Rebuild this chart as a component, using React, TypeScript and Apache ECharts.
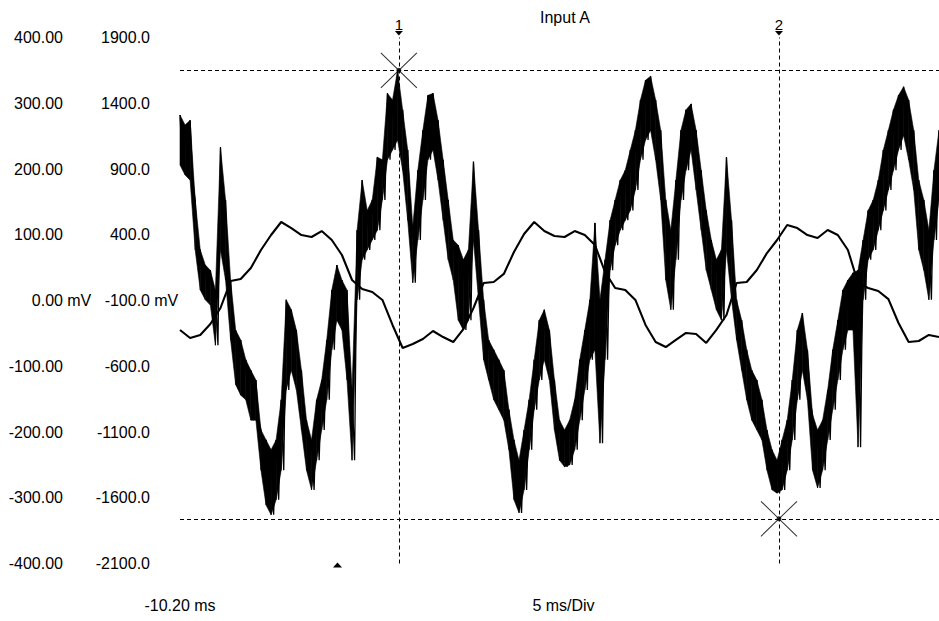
import React, { useEffect, useRef } from "react";
import * as echarts from "echarts";

// Time base (ms) of the capture window
const T_START = -10.2;
const T_END = 49.8;
const A_STEP = 0.4; // ms between envelope columns of channel A
const B_STEP = 0.8; // ms between samples of channel B

// Tick labels of the two scales (mV)
const chanATicks = [-400, -300, -200, -100, 0, 100, 200, 300, 400];
const chanBTicks = [-2100, -1600, -1100, -600, -100, 400, 900, 1400, 1900];
const timeLabels = [T_START];

// Channel A (Input A): upper and lower envelope of each column, mV
const chanAHigh = [
  282, 267, 274, 153, 77, 54, 46, 16, 233, 153,
  31, -45, -60, -90, -106, -121, -197, -212, -227, -212,
  -151, 1, -14, -45, -106, -182, -212, -151, -121, -60,
  16, 54, 31, 16, -136, 107, 183, 137, 153, 218,
  214, 315, 305, 350, 290, 229, 112, 198, 259, 312,
  315, 274, 214, 153, 92, 84, 62, 77, 211, 107,
  1, -60, -75, -90, -106, -166, -212, -243, -197, -151,
  -90, -30, -14, -45, -121, -182, -197, -182, -151, -90,
  -45, 1, 118, 1, 62, 122, 153, 183, 198, 229,
  259, 305, 335, 341, 305, 259, 153, 107, 183, 259,
  290, 299, 259, 198, 137, 92, 62, 77, 218, 122,
  1, -30, -75, -106, -121, -151, -197, -227, -243, -212,
  -182, -121, -45, -19, -75, -173, -197, -182, -136, -75,
  -30, 16, 31, 42, 46, 92, 137, 153, 183, 229,
  259, 290, 312, 325, 305, 259, 183, 153, 107, 198,
  259,
];
const chanALow = [
  206, 191, 183, 77, 16, 1, -7, -68, 77, 31,
  -60, -128, -144, -151, -182, -182, -258, -311, -326, -303,
  -258, -136, -106, -136, -197, -258, -288, -243, -197, -151,
  -75, -30, -45, -121, -243, 1, 62, 77, 92, 107,
  153, 214, 229, 244, 198, 122, 27, 92, 153, 214,
  229, 183, 122, 62, 31, -30, -45, -30, 92, 1,
  -90, -121, -151, -166, -182, -227, -303, -323, -288, -227,
  -166, -121, -90, -121, -197, -243, -253, -250, -227, -182,
  -136, -90, -75, -217, -90, 46, 84, 107, 122, 137,
  168, 214, 244, 259, 214, 153, 31, -14, 62, 153,
  198, 229, 168, 107, 46, 16, -14, -30, 77, 1,
  -60, -106, -151, -182, -197, -212, -258, -288, -293, -288,
  -258, -212, -151, -106, -151, -258, -285, -258, -212, -166,
  -121, -75, -45, -45, -223, 1, 62, 77, 107, 137,
  168, 198, 229, 251, 214, 168, 77, 46, 1, 92,
  153,
];

// Channel B, mV
const chanB = [
  -324, -385, -362, -279, -157, 48, 63, 147, 284, 398,
  497, 451, 398, 383, 428, 360, 246, 56, -13, -35,
  -96, -286, -461, -431, -393, -332, -378, -416, -317, -157,
  33, 41, 102, 269, 406, 497, 428, 391, 383, 428,
  398, 322, 117, -5, -20, -96, -286, -416, -454, -400,
  -347, -355, -423, -324, -210, 33, 41, 132, 261, 360,
  474, 451, 398, 375, 436, 398, 284, 33, -5, -28,
  -89, -271, -416, -408, -362, -378,
];

// Measurement cursors on channel A
const cursors = [
  { id: "1", t: 7.1, v: 350 },
  { id: "2", t: 37.15, v: -332 },
];
const triggerTime = 2.25;

const FONT = "'Liberation Sans', Arial, sans-serif";
const INK = "#000";

const xMarker = "path://M0 0L36 35M36 0L0 35";

function App() {
  const ref = useRef<HTMLDivElement>(null);

  useEffect(() => {
    if (!ref.current) return;
    const chart = echarts.init(ref.current, null, { renderer: "svg" });

    // zig-zag between the envelope edges of each column
    const aData: number[][] = [];
    chanAHigh.forEach((hi, i) => {
      const t = T_START + i * A_STEP;
      aData.push([t, hi]);
      aData.push([t + A_STEP / 2, chanALow[i]]);
    });
    // one row per column: time, lower edge, upper edge
    const aColumns = chanAHigh.map((hi, i) => [T_START + i * A_STEP, chanALow[i], hi]);
    const bData = chanB.map((v, i) => [T_START + i * B_STEP, v]);

    const unitLabel = (text: string, unit: boolean) =>
      `{n|${text}}{u|${unit ? " mV" : "\u00a0"}}`;
    const rich = {
      n: { fontSize: 16, fontFamily: FONT, color: INK },
      u: { fontSize: 16, fontFamily: FONT, color: INK, width: 28, align: "left" },
    };

    chart.setOption({
      animation: false,
      backgroundColor: "#fff",
      textStyle: { fontFamily: FONT, color: INK },
      title: {
        text: "Input A",
        left: 535,
        top: 4,
        textStyle: { fontSize: 16, fontWeight: "normal", color: INK, fontFamily: FONT },
      },
      grid: { left: 180, top: 37.5, width: 759, height: 526, outerBoundsMode: "none" },
      xAxis: {
        type: "value",
        min: T_START,
        max: T_END,
        axisLine: { show: false },
        axisTick: { show: false },
        splitLine: { show: false },
        axisLabel: {
          customValues: timeLabels,
          formatter: (v: number) => `${v.toFixed(2)} ms`,
          fontSize: 16,
          color: INK,
          fontFamily: FONT,
          margin: 34,
        },
      },
      yAxis: [
        {
          type: "value",
          min: -400,
          max: 400,
          interval: 100,
          position: "left",
          offset: 89,
          axisLine: { show: false },
          axisTick: { show: false },
          splitLine: { show: false },
          axisLabel: {
            margin: 0,
            fontSize: 16,
            color: INK,
            fontFamily: FONT,
            customValues: chanATicks,
            formatter: (v: number) => unitLabel(v.toFixed(2), v === 0),
            rich,
          },
        },
        {
          type: "value",
          min: -2100,
          max: 1900,
          position: "left",
          offset: 2,
          axisLine: { show: false },
          axisTick: { show: false },
          splitLine: { show: false },
          axisLabel: {
            margin: 0,
            fontSize: 16,
            color: INK,
            fontFamily: FONT,
            customValues: chanBTicks,
            formatter: (v: number) => unitLabel(v.toFixed(1), v === -100),
            rich,
          },
        },
      ],
      series: [
        {
          type: "line",
          name: "Input B",
          yAxisIndex: 1,
          data: bData,
          symbol: "none",
          lineStyle: { color: INK, width: 2.1 },
          silent: true,
        },
        {
          // solid ribbon joining neighbouring envelope columns of Input A
          type: "custom",
          yAxisIndex: 0,
          data: aColumns,
          encode: { x: 0, y: [1, 2] },
          silent: true,
          renderItem: (params: any, api: any) => {
            const i = params.dataIndex;
            if (i >= aColumns.length - 1) return null;
            const [t0, lo0, hi0] = aColumns[i];
            const [t1, lo1, hi1] = aColumns[i + 1];
            return {
              type: "polygon",
              shape: {
                points: [
                  api.coord([t0, hi0]),
                  api.coord([t1, hi1]),
                  api.coord([t1, lo1]),
                  api.coord([t0, lo0]),
                ],
              },
              style: { fill: INK, stroke: INK, lineWidth: 0.6 },
            };
          },
        },
        {
          type: "line",
          name: "Input A",
          yAxisIndex: 0,
          data: aData,
          symbol: "none",
          lineStyle: { color: INK, width: 1.3 },
          silent: true,
          markLine: {
            silent: true,
            symbol: ["none", "none"],
            label: { show: false },
            lineStyle: { color: INK, width: 1, type: [4, 3] },
            data: [
              ...cursors.map((c) => ({ xAxis: c.t })),
              ...cursors.map((c) => ({ yAxis: c.v })),
            ],
          },
        },
        {
          type: "scatter",
          yAxisIndex: 0,
          data: cursors.map((c) => [c.t, c.v]),
          symbol: xMarker,
          symbolSize: [36, 35],
          itemStyle: { color: "rgba(0,0,0,0)", borderColor: INK, borderWidth: 1 },
          silent: true,
          clip: false,
        },
        {
          type: "scatter",
          yAxisIndex: 0,
          data: cursors.map((c) => [c.t, c.v]),
          symbol: "circle",
          symbolSize: 5,
          itemStyle: { color: INK },
          silent: true,
        },
      ],
    });

    // cursor flags above the plot, time-base caption and trigger mark below it
    const toX = (t: number) => chart.convertToPixel({ xAxisIndex: 0 }, t) as number;
    const top = chart.convertToPixel({ yAxisIndex: 0 }, 400) as number;
    const bottom = chart.convertToPixel({ yAxisIndex: 0 }, -400) as number;
    const graphic: any[] = [];
    cursors.forEach((c) => {
      const x = toX(c.t);
      graphic.push({
        type: "polygon",
        silent: true,
        shape: { points: [[x - 4, top - 6.5], [x + 4, top - 6.5], [x, top - 2]] },
        style: { fill: INK },
      });
      graphic.push({
        type: "text",
        silent: true,
        x,
        y: top - 13,
        style: {
          text: c.id,
          fill: INK,
          font: `15px ${FONT}`,
          align: "center",
          verticalAlign: "middle",
        },
      });
    });
    const tx = toX(triggerTime);
    graphic.push({
      type: "polygon",
      silent: true,
      shape: { points: [[tx - 4.5, bottom + 4], [tx + 4.5, bottom + 4], [tx, bottom - 1]] },
      style: { fill: INK },
    });
    graphic.push({
      type: "text",
      silent: true,
      x: (toX(T_START) + toX(T_END)) / 2 + 4,
      y: bottom + 42,
      style: {
        text: "5 ms/Div",
        fill: INK,
        font: `16px ${FONT}`,
        align: "center",
        verticalAlign: "middle",
      },
    });
    chart.setOption({ graphic });

    return () => chart.dispose();
  }, []);

  return (
    <div
      ref={ref}
      style={{ position: "absolute", left: 0, top: 0, width: 939, height: 621, background: "#fff" }}
    />
  );
}

export default App;
